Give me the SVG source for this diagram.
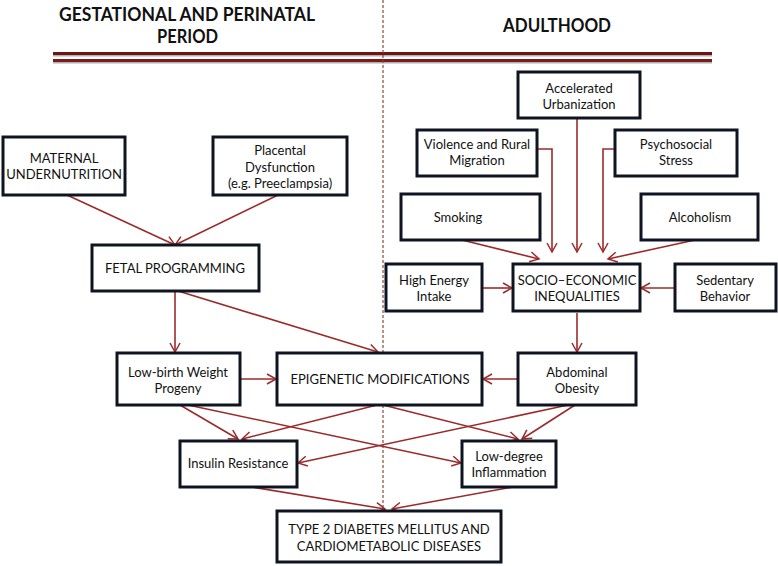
<svg xmlns="http://www.w3.org/2000/svg" width="778" height="566" viewBox="0 0 778 566">
<defs>
<marker id="ah" markerWidth="12" markerHeight="12" refX="10" refY="6" orient="auto" markerUnits="userSpaceOnUse">
<path d="M1,1 L10,6 L1,11" fill="none" stroke="#9b2b2b" stroke-width="1.5"/>
</marker>
<style>
.box{fill:#fff;stroke:#0f1520;stroke-width:3}
.t{font-family:Lato,"Open Sans","Liberation Sans",sans-serif;font-size:13px;fill:#111;text-anchor:middle}
.h{font-family:Lato,"Liberation Sans",sans-serif;font-size:19px;font-weight:bold;fill:#111;text-anchor:middle}
.c{fill:none;stroke:#9b2b2b;stroke-width:1.6;marker-end:url(#ah)}
</style>
</defs>
<rect width="778" height="566" fill="#fff"/>
<g id="header">
<text class="h" x="187" y="21" textLength="256" lengthAdjust="spacingAndGlyphs">GESTATIONAL AND PERINATAL</text>
<text class="h" x="187.5" y="43" textLength="61" lengthAdjust="spacingAndGlyphs">PERIOD</text>
<text class="h" x="557" y="32" textLength="108" lengthAdjust="spacingAndGlyphs">ADULTHOOD</text>
<line x1="53" y1="55.5" x2="712" y2="55.5" stroke="#b0b0b0" stroke-width="2"/>
<line x1="53" y1="53.5" x2="712" y2="53.5" stroke="#6e1414" stroke-width="3"/>
<line x1="53" y1="62.5" x2="712" y2="62.5" stroke="#b0b0b0" stroke-width="2"/>
<line x1="53" y1="60.5" x2="712" y2="60.5" stroke="#7d1a1a" stroke-width="3"/>
<line x1="383" y1="0" x2="383" y2="510" stroke="#8b4a3a" stroke-width="1.2" stroke-dasharray="3,2"/>
</g>
<g id="connectors">
<line class="c" x1="67" y1="195" x2="175" y2="245"/>
<line class="c" x1="278" y1="195" x2="175" y2="245"/>
<line class="c" x1="175" y1="291" x2="175" y2="352"/>
<line class="c" x1="178" y1="291" x2="378" y2="352"/>
<polyline class="c" points="537,149 552,149 552,252"/>
<line class="c" x1="577" y1="118" x2="577" y2="252"/>
<polyline class="c" points="615,149 603,149 603,252"/>
<line class="c" x1="462" y1="240" x2="539" y2="259"/>
<line class="c" x1="695" y1="240" x2="608" y2="259"/>
<line class="c" x1="482" y1="288" x2="512" y2="288"/>
<line class="c" x1="675" y1="288" x2="641" y2="288"/>
<line class="c" x1="577" y1="313" x2="577" y2="352"/>
<line class="c" x1="240" y1="379" x2="276" y2="379"/>
<line class="c" x1="518" y1="379" x2="483" y2="379"/>
<line class="c" x1="180" y1="405" x2="238" y2="439"/>
<line class="c" x1="188" y1="405" x2="461" y2="463"/>
<line class="c" x1="377" y1="405" x2="242" y2="439"/>
<line class="c" x1="383" y1="405" x2="518" y2="439"/>
<line class="c" x1="575" y1="405" x2="522" y2="439"/>
<line class="c" x1="568" y1="405" x2="298" y2="463"/>
<line class="c" x1="252" y1="487" x2="385" y2="509"/>
<line class="c" x1="513" y1="487" x2="392" y2="509"/>
</g>
<g id="maternal"><rect class="box" x="3" y="137" width="122" height="58"/><text class="t" x="64" y="163">MATERNAL</text><text class="t" x="64" y="179">UNDERNUTRITION</text></g>
<g id="placental"><rect class="box" x="213" y="137" width="134" height="58"/><text class="t" x="280" y="155">Placental</text><text class="t" x="280" y="172">Dysfunction</text><text class="t" x="280" y="188">(e.g. Preeclampsia)</text></g>
<g id="fetal"><rect class="box" x="92" y="245" width="167" height="46"/><text class="t" x="175" y="273">FETAL PROGRAMMING</text></g>
<g id="urbanization"><rect class="box" x="518" y="72" width="122" height="46"/><text class="t" x="579" y="93">Accelerated</text><text class="t" x="579" y="109">Urbanization</text></g>
<g id="violence"><rect class="box" x="417" y="130" width="120" height="46"/><text class="t" x="477" y="149">Violence and Rural</text><text class="t" x="477" y="165">Migration</text></g>
<g id="stress"><rect class="box" x="615" y="130" width="122" height="46"/><text class="t" x="676" y="149">Psychosocial</text><text class="t" x="676" y="165">Stress</text></g>
<g id="smoking"><rect class="box" x="401" y="194" width="139" height="46"/><text class="t" x="458" y="222">Smoking</text></g>
<g id="alcoholism"><rect class="box" x="641" y="194" width="117" height="46"/><text class="t" x="700" y="222">Alcoholism</text></g>
<g id="energy"><rect class="box" x="386" y="264" width="96" height="47"/><text class="t" x="434" y="285">High Energy</text><text class="t" x="434" y="301">Intake</text></g>
<g id="socio"><rect class="box" x="513" y="264" width="127" height="47"/><text class="t" x="577" y="285">SOCIO–ECONOMIC</text><text class="t" x="577" y="301">INEQUALITIES</text></g>
<g id="sedentary"><rect class="box" x="675" y="264" width="101" height="47"/><text class="t" x="725" y="285">Sedentary</text><text class="t" x="725" y="301">Behavior</text></g>
<g id="lowbirth"><rect class="box" x="117" y="353" width="123" height="52"/><text class="t" x="178" y="377">Low-birth Weight</text><text class="t" x="178" y="393">Progeny</text></g>
<g id="epigenetic"><rect class="box" x="277" y="353" width="205" height="52"/><text class="t" x="380" y="384">EPIGENETIC MODIFICATIONS</text></g>
<g id="obesity"><rect class="box" x="518" y="353" width="118" height="52"/><text class="t" x="577" y="377">Abdominal</text><text class="t" x="577" y="393">Obesity</text></g>
<g id="insulin"><rect class="box" x="180" y="441" width="117" height="46"/><text class="t" x="238" y="468">Insulin Resistance</text></g>
<g id="inflammation"><rect class="box" x="462" y="441" width="94" height="46"/><text class="t" x="509" y="461">Low-degree</text><text class="t" x="509" y="477">Inflammation</text></g>
<g id="t2dm"><rect class="box" x="277" y="511" width="224" height="51"/><text class="t" x="389" y="534">TYPE 2 DIABETES MELLITUS AND</text><text class="t" x="389" y="551">CARDIOMETABOLIC DISEASES</text></g>
</svg>
